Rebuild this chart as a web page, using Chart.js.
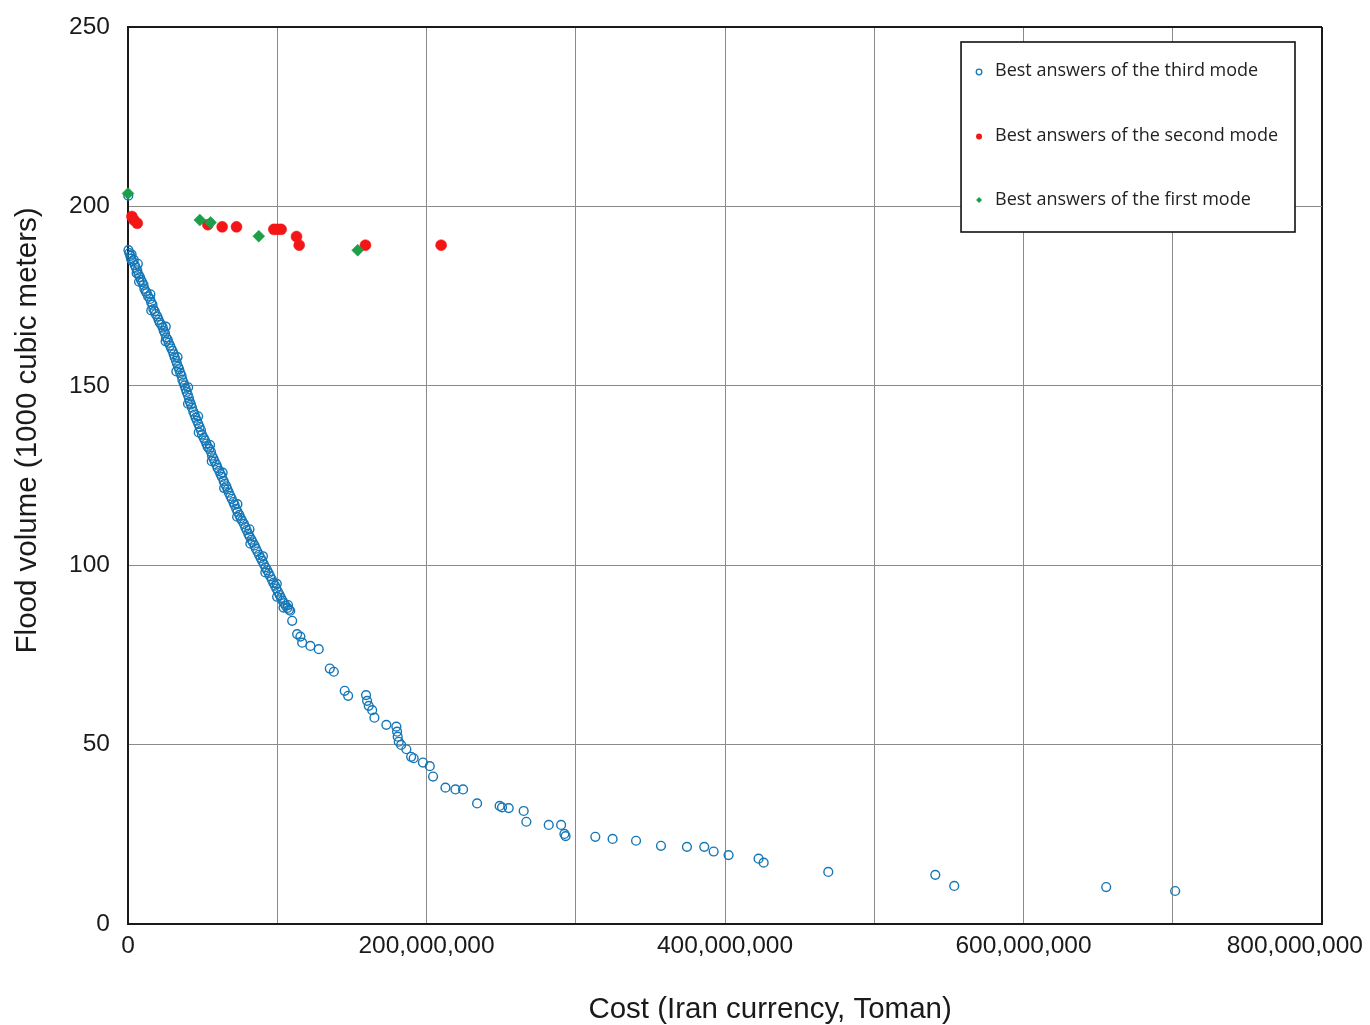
<!DOCTYPE html>
<html>
<head>
<meta charset="utf-8">
<title>Flood volume vs cost</title>
<script src="https://cdn.jsdelivr.net/npm/chart.js@4.4.1/dist/chart.umd.min.js"></script>
<style>
  html, body { margin: 0; padding: 0; background: #ffffff; overflow: hidden; }
  canvas { display: block; }
</style>
</head>
<body>
<canvas id="chart" width="1370" height="1025"></canvas>
<script>
// Cost values are in millions of Toman; flood volume in 1000 cubic meters.

// Third mode: dense Pareto band, then the sparse tail toward high cost
const thirdCostM = [
  0.2, 0.3, 0.9, 1.6, 2.4, 2.0, 3.1, 3.9, 4.6, 5.3, 6.2, 5.8, 7.1, 8.0, 8.7, 9.5,
  10.4, 11.0, 11.9, 12.6, 13.5, 14.8, 15.5, 16.4, 17.0, 17.9, 18.6, 19.7, 20.5,
  21.3, 22.4, 23.3, 24.0, 24.8, 25.5, 26.6, 27.3, 28.2, 29.0, 29.9, 30.6, 31.3,
  32.2, 32.8, 33.6, 34.3, 35.0, 35.9, 36.4, 37.2, 37.9, 38.6, 39.3, 40.1, 40.8,
  41.4, 42.2, 42.9, 43.8, 44.6, 45.3, 46.2, 47.1, 48.0, 48.9, 49.6, 50.7, 51.6,
  52.5, 53.4, 54.5, 55.6, 56.3, 57.2, 58.1, 59.3, 60.0, 61.1, 62.0, 62.9, 64.1,
  64.8, 65.9, 66.7, 67.6, 68.6, 69.5, 70.6, 71.4, 72.5, 73.4, 74.6, 75.5, 76.4,
  77.7, 78.6, 79.5, 80.6, 81.5, 82.7, 83.6, 84.8, 85.7, 86.7, 87.8, 88.9, 89.9,
  91.0, 92.1, 93.2, 94.3, 95.3, 96.4, 97.4, 98.5, 99.4, 100.5, 101.6, 102.5,
  103.5, 104.6, 105.7, 106.8, 107.9, 108.7,
  6.6, 7.4, 15.0, 15.6, 25.3, 25.2, 33.2, 32.4, 40.3, 40.2, 47.0, 47.4, 55.0,
  56.1, 63.4, 64.4, 73.3, 73.1, 81.4, 82.0, 90.4, 92.0, 99.7, 99.9, 107.2, 104.2,
  110.0, 113.3, 115.5, 116.7, 122.2, 127.8, 135.2, 137.9, 145.2, 147.5, 159.5,
  160.2, 161.3, 163.6, 165.1, 173.1, 179.8, 180.3, 180.7, 181.4, 183.0, 186.5,
  189.7, 191.4, 197.6, 202.2, 204.4, 212.7, 219.4, 224.5, 233.9, 249.0, 250.6,
  255.1, 265.1, 266.9, 281.9, 290.2, 292.4, 293.2, 313.1, 324.7, 340.4, 357.1,
  374.5, 386.1, 392.4, 402.4, 422.5, 425.9, 469.2, 540.9, 553.6, 655.4, 701.6
];
const thirdVolume = [
  203.0, 187.8, 187.0, 186.2, 186.6, 185.4, 184.7, 185.1, 183.6, 182.9, 182.2, 181.4, 181.0, 180.3, 179.5, 178.9,
  178.1, 177.0, 176.3, 175.8, 174.9, 174.2, 173.3, 172.6, 171.4, 170.8, 170.0, 169.3, 168.4,
  167.6, 167.0, 166.2, 165.3, 164.6, 163.5, 162.9, 162.0, 161.2, 160.4, 159.7, 158.8, 157.9,
  157.0, 156.2, 155.3, 154.6, 153.6, 152.8, 151.7, 150.9, 150.1, 149.2, 148.3, 147.5, 146.6,
  145.6, 144.8, 143.9, 142.8, 142.0, 141.1, 140.3, 139.4, 138.5, 137.6, 136.4, 135.5, 134.8,
  133.9, 133.0, 132.4, 131.6, 130.5, 129.8, 128.9, 128.0, 127.1, 126.3, 125.4, 124.6, 123.5,
  122.7, 122.0, 121.1, 120.2, 119.3, 118.5, 117.6, 116.8, 115.7, 114.9, 114.0, 113.1, 112.4,
  111.5, 110.6, 109.8, 108.8, 108.0, 107.1, 106.4, 105.5, 104.6, 103.8, 102.9, 102.0, 101.2,
  100.3, 99.4, 98.6, 97.8, 96.9, 96.0, 95.1, 94.3, 93.5, 92.6, 91.7, 90.9,
  90.1, 89.4, 88.7, 88.1, 87.6, 87.3,
  184.0, 179.0, 175.5, 171.0, 166.5, 162.4, 158.0, 154.0, 149.6, 145.0, 141.5, 137.0, 133.5,
  129.0, 125.8, 121.5, 117.0, 113.5, 110.0, 106.0, 102.5, 98.0, 94.8, 91.2, 88.9, 88.2,
  84.5, 80.8, 80.1, 78.4, 77.5, 76.6, 71.2, 70.3, 65.0, 63.6, 63.8,
  62.2, 60.8, 59.6, 57.5, 55.5, 55.0, 53.6, 52.2, 50.8, 49.9, 48.7,
  46.6, 46.2, 45.0, 44.0, 41.1, 38.0, 37.5, 37.5, 33.6, 32.9, 32.5,
  32.3, 31.5, 28.5, 27.6, 27.6, 25.1, 24.5, 24.3, 23.7, 23.2, 21.8,
  21.5, 21.5, 20.2, 19.2, 18.2, 17.1, 14.5, 13.7, 10.6, 10.3, 9.2
];

// Second mode
const secondCostM = [2.6, 4.0, 6.2, 53.5, 63.1, 72.7, 97.7, 100.2, 102.6, 112.9, 114.7, 159.1, 209.8];
const secondVolume = [197.2, 196.2, 195.3, 194.9, 194.3, 194.3, 193.6, 193.6, 193.6, 191.6, 189.2, 189.2, 189.2];

// First mode
const firstCostM = [0.0, 48.1, 55.3, 87.6, 153.9];
const firstVolume = [203.6, 196.2, 195.5, 191.7, 187.8];

const seriesNames = [
  'Best answers of the third mode',
  'Best answers of the second mode',
  'Best answers of the first mode'
];
const labeledCostTicks = [0, 200000000, 400000000, 600000000, 800000000];
const volumeTicks = [0, 50, 100, 150, 200, 250];

const toPoints = (costs, vols) => costs.map((c, i) => ({ x: c * 1e6, y: vols[i] }));

const COLORS = { third: '#1577b6', second: '#f41616', first: '#1d9f4a' };
const AXIS_DARK = '#1a1a1a';
const GRID = '#8a8a8a';
const FONT = '"Liberation Sans", Arial, sans-serif';

// Boxed legend inside the plot, top-right
const boxedLegend = {
  id: 'boxedLegend',
  afterDraw(chart) {
    const { ctx, chartArea } = chart;
    const items = [
      { text: seriesNames[0], style: 'ring', color: COLORS.third },
      { text: seriesNames[1], style: 'dot', color: COLORS.second },
      { text: seriesNames[2], style: 'diamond', color: COLORS.first }
    ];
    ctx.save();
    ctx.font = '18px "Open Sans"';
    const maxText = Math.max(...items.map(it => ctx.measureText(it.text).width));
    const w = 34 + maxText + 17;
    const h = 190;
    const right = chartArea.right - 27;
    const left = right - w;
    const top = chartArea.top + 15;
    ctx.fillStyle = '#ffffff';
    ctx.fillRect(left, top, w, h);
    ctx.strokeStyle = '#111111';
    ctx.lineWidth = 1.6;
    ctx.strokeRect(left, top, w, h);
    items.forEach((it, i) => {
      const cy = top + 29 + i * 64.5;
      const mx = left + 18;
      ctx.beginPath();
      if (it.style === 'ring') {
        ctx.arc(mx, cy + 1, 2.8, 0, Math.PI * 2);
        ctx.strokeStyle = it.color;
        ctx.lineWidth = 1.3;
        ctx.stroke();
      } else if (it.style === 'dot') {
        ctx.arc(mx, cy + 1, 3, 0, Math.PI * 2);
        ctx.fillStyle = it.color;
        ctx.fill();
      } else {
        ctx.moveTo(mx, cy - 3);
        ctx.lineTo(mx + 3, cy);
        ctx.lineTo(mx, cy + 3);
        ctx.lineTo(mx - 3, cy);
        ctx.closePath();
        ctx.fillStyle = it.color;
        ctx.fill();
      }
      ctx.fillStyle = '#222222';
      ctx.textBaseline = 'middle';
      ctx.textAlign = 'left';
      ctx.fillText(it.text, left + 34, cy);
    });
    ctx.restore();
  }
};

const nb = n => '\u00A0'.repeat(n);

new Chart(document.getElementById('chart'), {
  type: 'scatter',
  data: {
    datasets: [
      {
        label: seriesNames[2],
        data: toPoints(firstCostM, firstVolume),
        pointStyle: 'rectRot',
        pointRadius: 6,
        backgroundColor: COLORS.first,
        borderColor: COLORS.first,
        borderWidth: 0.5,
        clip: false
      },
      {
        label: seriesNames[1],
        data: toPoints(secondCostM, secondVolume),
        pointStyle: 'circle',
        pointRadius: 5.5,
        backgroundColor: COLORS.second,
        borderColor: COLORS.second,
        borderWidth: 0.5,
        clip: false
      },
      {
        label: seriesNames[0],
        data: toPoints(thirdCostM, thirdVolume),
        pointStyle: 'circle',
        pointRadius: 4.4,
        backgroundColor: 'rgba(255,255,255,0)',
        borderColor: COLORS.third,
        borderWidth: 1.4,
        clip: false
      }
    ]
  },
  options: {
    responsive: false,
    animation: false,
    devicePixelRatio: 1,
    events: [],
    layout: { padding: { left: 0, right: 48, top: 27, bottom: 0 } },
    plugins: {
      legend: { display: false },
      tooltip: { enabled: false }
    },
    scales: {
      x: {
        type: 'linear',
        min: 0,
        max: 800000000,
        afterFit(scale) {
          scale.height = 101;
          scale.paddingLeft = 0;
          scale.paddingRight = 0;
        },
        ticks: {
          stepSize: 100000000,
          autoSkip: false,
          maxRotation: 0,
          padding: 8,
          color: AXIS_DARK,
          font: { family: FONT, size: 24.5 },
          callback(value) {
            if (!labeledCostTicks.includes(value)) return '';
            let s = Number(value).toLocaleString('en-US');
            if (value === 800000000) s += nb(8);
            return s;
          }
        },
        grid: {
          drawTicks: false,
          color: c => (c.tick && c.tick.value === 800000000 ? AXIS_DARK : GRID),
          lineWidth: c => (c.tick && c.tick.value === 800000000 ? 2 : 1)
        },
        border: { color: AXIS_DARK, width: 2 },
        title: {
          display: true,
          text: nb(11) + 'Cost (Iran currency, Toman)',
          color: AXIS_DARK,
          font: { family: FONT, size: 29.5, lineHeight: 1.05 },
          padding: { top: 0, bottom: 0 }
        }
      },
      y: {
        type: 'linear',
        min: 0,
        max: 250,
        afterFit(scale) {
          scale.width = 128;
          scale.paddingTop = 0;
          scale.paddingBottom = 0;
        },
        afterBuildTicks(scale) {
          scale.ticks = volumeTicks.map(v => ({ value: v }));
        },
        ticks: {
          padding: 18,
          color: AXIS_DARK,
          font: { family: FONT, size: 24.5 }
        },
        grid: {
          drawTicks: false,
          color: c => (c.tick && c.tick.value === 250 ? AXIS_DARK : GRID),
          lineWidth: c => (c.tick && c.tick.value === 250 ? 2 : 1)
        },
        border: { color: AXIS_DARK, width: 2 },
        title: {
          display: true,
          text: nb(11) + 'Flood volume (1000 cubic meters)',
          color: AXIS_DARK,
          font: { family: FONT, size: 29.5, lineHeight: 1.05 },
          padding: { top: 12.5, bottom: 0 }
        }
      }
    }
  },
  plugins: [boxedLegend]
});
</script>
</body>
</html>
